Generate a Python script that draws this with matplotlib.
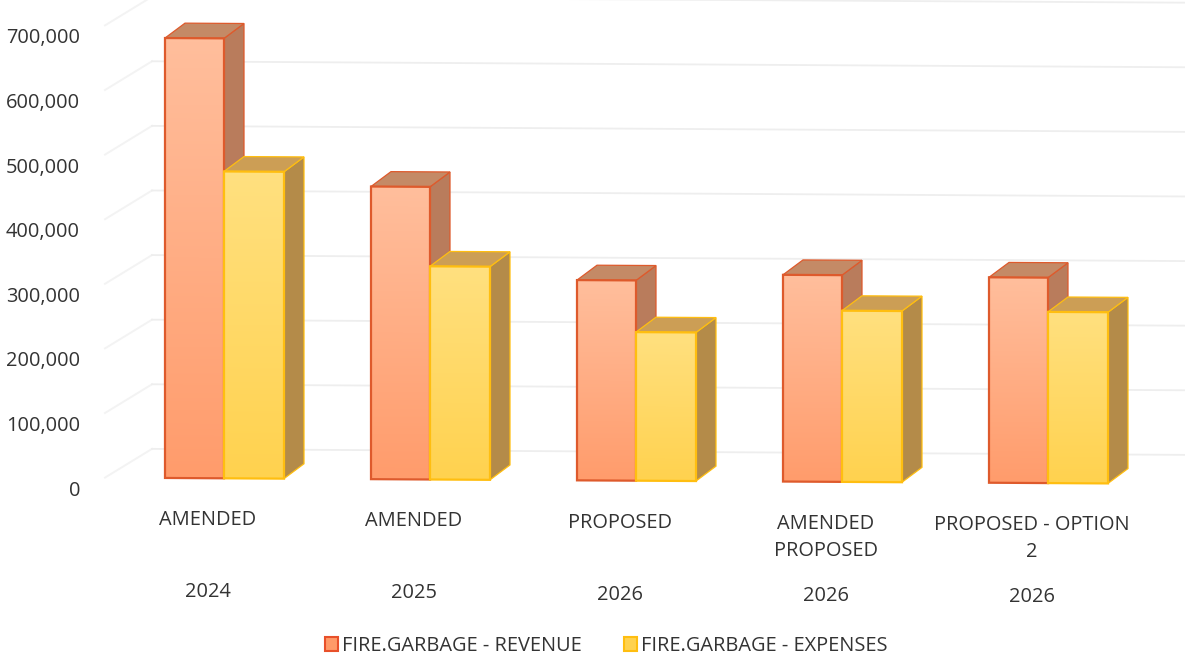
import numpy as np
import matplotlib
matplotlib.use("Agg")
import matplotlib.pyplot as plt
from matplotlib.patches import Polygon, Patch
from matplotlib.transforms import Affine2D, ScaledTranslation
from matplotlib.colors import LinearSegmentedColormap

# ---- data
status_labels = ["AMENDED", "AMENDED", "PROPOSED", "AMENDED\nPROPOSED", "PROPOSED - OPTION\n2"]
year_labels = ["2024", "2025", "2026", "2026", "2026"]
revenue = [681000, 453000, 310000, 320000, 318000]
expenses = [475000, 330000, 230000, 265000, 265000]
series_names = ["FIRE.GARBAGE - REVENUE", "FIRE.GARBAGE - EXPENSES"]
y_ticks = [0, 100000, 200000, 300000, 400000, 500000, 600000, 700000]

# ---- layout (pixels)
W, H, DPI = 1185, 665, 100
LEFT = 80
GROUP = 206.0
CENTER0 = 224.0
PX100K = 64.6
BASE0 = 477.0
SLOPE = 0.0058


def xu(px):
    return px / GROUP


def yu(px):
    return px / PX100K * 100000


plt.rcParams["font.family"] = ["Open Sans", "DejaVu Sans"]
fig = plt.figure(figsize=(W / DPI, H / DPI), dpi=DPI, facecolor="white")
ax = fig.add_axes([LEFT / W, 0, (W - LEFT) / W, 1])
xlim = ((LEFT - CENTER0) / GROUP, (W - CENTER0) / GROUP)
ylim = (-yu(H - BASE0), yu(BASE0))

skew = Affine2D.from_values(1, -SLOPE, 0, 1, 0, 0)
tr = ax.transData + skew

x = np.arange(len(revenue))
wr, we = xu(59), xu(60)
dx, dy = xu(20), yu(15)

# back-wall gridlines with the floor/side-wall diagonal
wx0, wdx, wdy = xu(105 - CENTER0), xu(47), yu(29)
for v in y_ticks:
    ax.plot([wx0, wx0 + wdx], [v, v + wdy], color="#F3F3F3", lw=1.4, transform=tr, zorder=1)
    ax.plot([wx0 + wdx, xlim[1]], [v + wdy, v + wdy], color="#EEEEEE", lw=1.3, transform=tr, zorder=1)

cm_rev = LinearSegmentedColormap.from_list("r", ["#FF9C6C", "#FFBE9C"])
cm_exp = LinearSegmentedColormap.from_list("e", ["#FFD24F", "#FFE07F"])
grad = np.linspace(1, 0, 64).reshape(-1, 1)

bars_r = ax.bar(x - wr, revenue, wr, align="edge", facecolor="none", edgecolor="#DE5A2C", linewidth=1.6)
bars_e = ax.bar(x, expenses, we, align="edge", facecolor="none", edgecolor="#FFBE10", linewidth=1.6)


def draw3d(bar, left, width, v, cmap, side, top, edge, z):
    right = left + width
    ax.add_patch(Polygon([(right, 0), (right + dx, dy), (right + dx, v + dy), (right, v)],
                         closed=True, fc=side, ec=edge, lw=0.9, transform=tr, zorder=z))
    ax.add_patch(Polygon([(left, v), (left + dx, v + dy), (right + dx, v + dy), (right, v)],
                         closed=True, fc=top, ec=edge, lw=0.9, transform=tr, zorder=z))
    im = ax.imshow(grad, cmap=cmap, vmin=0, vmax=1, extent=(left, right, 0, v), aspect="auto",
                   transform=tr, zorder=z + 0.1, interpolation="bilinear")
    bar.set_transform(tr)
    im.set_clip_path(bar)
    bar.set_zorder(z + 0.2)


for i in x:
    draw3d(bars_r[i], i - wr, wr, revenue[i], cm_rev, "#B97C5C", "#C48A66", "#DE5A2C", 3 + i)
    draw3d(bars_e[i], i, we, expenses[i], cm_exp, "#B48B49", "#CC9E55", "#FFBE10", 3.5 + i)

ax.set_xlim(xlim)
ax.set_ylim(ylim)

# value axis
for s in ax.spines.values():
    s.set_visible(False)
ax.set_facecolor("none")
ax.set_xticks([])
ax.set_yticks(y_ticks)
ax.set_yticklabels([f"{v:,}" for v in y_ticks], fontsize=14.4, color="#333333")
ax.tick_params(axis="y", length=0, pad=0)
ax.set_ylim(ylim)
shift = ScaledTranslation(0, -11 / DPI, fig.dpi_scale_trans)
for lab in ax.get_yticklabels():
    lab.set_transform(lab.get_transform() + shift)

# two-level category labels
for i in x:
    xc = i - xu(16)
    ax.annotate(status_labels[i], xy=(xc, 0), xycoords=tr, xytext=(0, -(510 - 478) * 72 / DPI),
                textcoords="offset points", ha="center", va="top", fontsize=14.4, color="#333333",
                linespacing=1.5)
    ax.annotate(year_labels[i], xy=(xc, 0), xycoords=tr, xytext=(0, -(582 - 478) * 72 / DPI),
                textcoords="offset points", ha="center", va="top", fontsize=14.4, color="#333333")

# legend
handles = [Patch(fc="#FF9A68", ec="#E8502A", lw=1.5), Patch(fc="#FFD24F", ec="#FFBE10", lw=1.5)]
fig.legend(handles, series_names, loc="center", bbox_to_anchor=(606 / W, 1 - 646 / H), ncol=2,
           frameon=False, fontsize=14.4, labelcolor="#333333", handlelength=0.65, handleheight=0.75,
           handletextpad=0.2, columnspacing=2.1, borderpad=0)

fig.savefig("out.png", dpi=DPI, facecolor="white")
